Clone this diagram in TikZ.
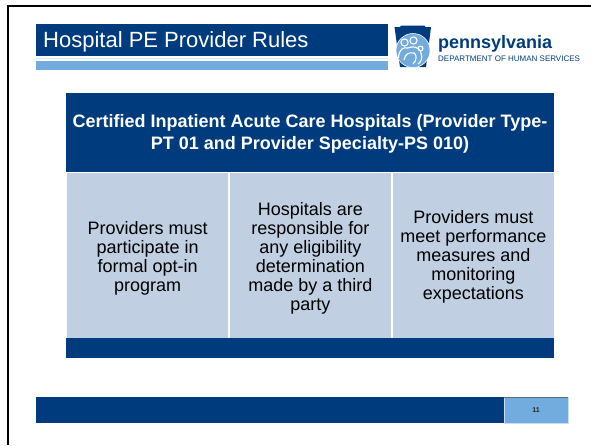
\documentclass[tikz,border=0pt]{standalone}
\usepackage{fontspec}
\setmainfont{Liberation Sans}
\usetikzlibrary{positioning}
\definecolor{dhsnavy}{RGB}{0,60,125}
\definecolor{dhssky}{RGB}{114,171,221}
\definecolor{cellblue}{RGB}{192,207,225}
\tikzset{block/.style={draw=none, inner sep=0pt, outer sep=0pt, anchor=north west}}
\tikzset{cell/.style={block, fill=cellblue, minimum height=165pt, minimum width=160.5pt}}
\tikzset{celltext/.style={align=center, inner sep=0pt, font=\fontsize{18}{19}\selectfont}}

\begin{document}
\begin{tikzpicture}[x=1pt,y=-1pt]
\useasboundingbox (0,0) rectangle (591,445);

%frame
\draw[line width=2pt] (591,6) -- (8,6) -- (8,445);

%title
\node[block, fill=dhsnavy, minimum width=352pt, minimum height=32pt] (title) at (36,24) { };
\node[anchor=base west, inner sep=0pt, text=white, font=\fontsize{22}{26}\selectfont] (titletext) at (43,47) {Hospital PE Provider Rules};
\node[block, fill=dhssky!25, minimum width=352pt, minimum height=1.5pt] (gap) at (36,57.5) { };
\node[block, fill=dhssky, minimum width=352pt, minimum height=9pt] (strip) at (36,61) { };

%logo
\fill[dhsnavy] (394.5,27) -- (400,27) -- (401,25.5) -- (424.5,25.5) -- (425.5,27) -- (431,27) -- (426,67) -- (400,67) -- cycle;
\node[circle, fill=dhssky, draw=white, line width=0.6pt, minimum size=34pt, inner sep=0pt] (seal) at (413,50.5) { };
\draw[white, line width=1.1pt] (404.5,42.5) circle (3.6) (413.5,40.5) circle (3.6) (420.5,48.5) circle (2.4);
\draw[white, line width=1.1pt] (398.5,58) .. controls (399,49) and (403,47) .. (408,48)
  .. controls (412,46) and (419,46) .. (421,53) .. controls (423,58) and (421,62) .. (418,64);
\draw[white, line width=1.1pt] (404,60) .. controls (405,54) and (409,52) .. (414,53) .. controls (417,55) and (417,60) .. (413,64);
\node[anchor=base west, inner sep=0pt, text=dhsnavy, font=\bfseries\fontsize{18}{20}\selectfont] (pa) at (438,48) {pennsylvania};
\node[anchor=base west, inner sep=0pt, text=dhsnavy, font=\fontsize{8}{9}\selectfont] (dept) at (438,61.5) {DEPARTMENT OF HUMAN SERVICES};

%table header
\node[block, fill=dhsnavy, minimum width=488pt, minimum height=79pt] (head) at (66,93) { };
\node[align=center, inner sep=0pt, text=white, font=\bfseries\fontsize{18}{22}\selectfont] (headtext) at ([yshift=-1.5pt]head.center) {Certified Inpatient Acute Care Hospitals (Provider Type-\\PT 01 and Provider Specialty-PS 010)};

%table body
\node[cell] (cella) at (67.3,173.3) { };
\node[cell, right=2.3pt of cella] (cellb) { };
\node[cell, right=2pt of cellb, minimum width=161.7pt] (cellc) { };
\node[celltext] (texta) at ([yshift=-3pt]cella.center) {Providers must\\participate in\\formal opt-in\\program};
\node[celltext] (textb) at ([yshift=-3pt]cellb.center) {Hospitals are\\responsible for\\any eligibility\\determination\\made by a third\\party};
\node[celltext] (textc) at ([yshift=-1.5pt]cellc.center) {Providers must\\meet performance\\measures and\\monitoring\\expectations};
\node[block, fill=dhsnavy, minimum width=488pt, minimum height=20pt] (tablefoot) at (66,338.3) { };

%footer
\node[block, fill=dhsnavy, minimum width=468pt, minimum height=26pt] (footbar) at (36,397) { };
\node[block, fill=dhssky, draw=dhssky!40, line width=0.6pt, minimum width=64pt, minimum height=26pt, right=0pt of footbar] (pagebox) { };
\draw[gray!70!dhsnavy, line width=0.6pt] (pagebox.north west) -- (pagebox.north east);
\node[inner sep=0pt, text=black!85, font=\bfseries\fontsize{7}{8}\selectfont] (pagenum) at (pagebox.center) {11};

\end{tikzpicture}
\end{document}
